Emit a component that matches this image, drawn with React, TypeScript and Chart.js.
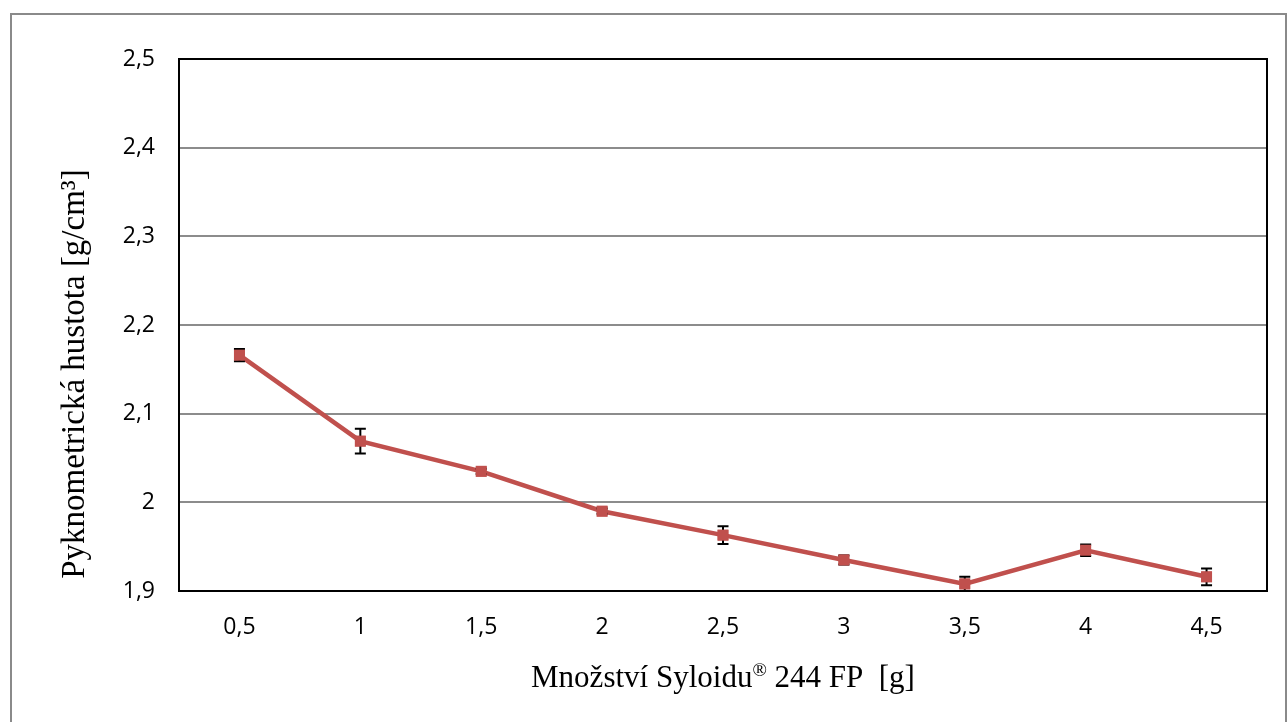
import React, { useEffect, useRef } from "react";
import { Chart, registerables } from "chart.js";

Chart.register(...registerables);

const categories = ["0,5", "1", "1,5", "2", "2,5", "3", "3,5", "4", "4,5"];
const densityValues = [2.166, 2.069, 2.035, 1.990, 1.963, 1.935, 1.908, 1.946, 1.916];
const densityErrors = [0.007, 0.014, 0.003, 0.003, 0.010, 0.005, 0.008, 0.0065, 0.0095];
const yTitle = "Pyknometrická hustota [g/cm³]";
const xTitleParts = ["Množství Syloidu", "®", " 244 FP  [g]"];

const W = 1288;
const H = 722;

export default function App() {
  const ref = useRef<HTMLCanvasElement | null>(null);

  useEffect(() => {
    const canvas = ref.current;
    if (!canvas) return;

    const framePlugin = {
      id: "frame",
      beforeDraw(chart: any) {
        const ctx = chart.ctx;
        ctx.save();
        ctx.fillStyle = "#ffffff";
        ctx.fillRect(0, 0, chart.width, chart.height);
        ctx.strokeStyle = "#8a8a8a";
        ctx.lineWidth = 2;
        ctx.strokeRect(11, 14, 1275, 800);
        ctx.restore();
      },
      afterDatasetsDraw(chart: any) {
        const ctx = chart.ctx;
        const xs = chart.scales.x;
        const ys = chart.scales.y;
        ctx.save();
        ctx.strokeStyle = "#000000";
        ctx.lineWidth = 2;
        densityValues.forEach((v, i) => {
          const e = densityErrors[i];
          const x = xs.getPixelForValue(i);
          const yTop = ys.getPixelForValue(v + e);
          const yBot = ys.getPixelForValue(v - e);
          ctx.beginPath();
          ctx.moveTo(x, yTop);
          ctx.lineTo(x, yBot);
          ctx.moveTo(x - 5.5, yTop);
          ctx.lineTo(x + 5.5, yTop);
          ctx.moveTo(x - 5.5, yBot);
          ctx.lineTo(x + 5.5, yBot);
          ctx.stroke();
        });
        const meta = chart.getDatasetMeta(0);
        ctx.fillStyle = "#C0504D";
        meta.data.forEach((pt: any) => {
          ctx.fillRect(pt.x - 5.5, pt.y - 5.5, 11, 11);
        });
        ctx.restore();
      },
      afterDraw(chart: any) {
        const ctx = chart.ctx;
        const a = chart.chartArea;
        ctx.save();
        ctx.strokeStyle = "#000000";
        ctx.lineWidth = 2;
        ctx.strokeRect(a.left, a.top, a.right - a.left, a.bottom - a.top);

        ctx.fillStyle = "#000000";
        ctx.textBaseline = "alphabetic";
        const mainFont = "31px 'Liberation Serif', 'Times New Roman', serif";
        const supFont = "19px 'Liberation Serif', 'Times New Roman', serif";
        ctx.font = mainFont;
        const w0 = ctx.measureText(xTitleParts[0]).width;
        const w2 = ctx.measureText(xTitleParts[2]).width;
        ctx.font = supFont;
        const w1 = ctx.measureText(xTitleParts[1]).width;
        const total = w0 + w1 + w2;
        const cx = (a.left + a.right) / 2;
        const baseY = 687;
        let x = cx - total / 2;
        ctx.textAlign = "left";
        ctx.font = mainFont;
        ctx.fillText(xTitleParts[0], x, baseY);
        x += w0;
        ctx.font = supFont;
        ctx.fillText(xTitleParts[1], x, baseY - 11);
        x += w1;
        ctx.font = mainFont;
        ctx.fillText(xTitleParts[2], x, baseY);

        ctx.translate(75, 374);
        ctx.rotate(-Math.PI / 2);
        ctx.textAlign = "center";
        ctx.textBaseline = "middle";
        ctx.font = "33px 'Liberation Serif', 'Times New Roman', serif";
        ctx.fillText(yTitle, 0, 0);
        ctx.restore();
      },
    };

    const chart = new Chart(canvas, {
      type: "line",
      data: {
        labels: categories,
        datasets: [
          {
            label: "Pyknometrická hustota",
            data: densityValues,
            borderColor: "#C0504D",
            backgroundColor: "#C0504D",
            borderWidth: 4.5,
            pointStyle: "rect",
            pointRadius: 7.5,
            pointBorderWidth: 0,
            tension: 0,
            clip: false as any,
          },
        ],
      },
      options: {
        responsive: false,
        animation: false,
        devicePixelRatio: 1,
        layout: { padding: { top: 59, right: 21, left: 0, bottom: 0 } },
        plugins: {
          legend: { display: false },
          tooltip: { enabled: false },
          title: { display: false },
        },
        scales: {
          x: {
            type: "category",
            offset: true,
            grid: { display: false, drawTicks: false },
            border: { display: false },
            ticks: {
              color: "#000000",
              font: { family: "'Open Sans', sans-serif", size: 23 },
              padding: 23,
            },
            afterFit(scale: any) {
              scale.height = 131;
            },
          },
          y: {
            min: 1.9,
            max: 2.5,
            grid: {
              color: "#8c8c8c",
              lineWidth: 2,
              drawTicks: false,
            },
            border: { display: false },
            ticks: {
              stepSize: 0.1,
              color: "#000000",
              font: { family: "'Open Sans', sans-serif", size: 23 },
              padding: 24,
              callback: (v: any) => String(Number(Number(v).toFixed(1))).replace(".", ","),
            },
            afterFit(scale: any) {
              scale.width = 179;
            },
          },
        },
      },
      plugins: [framePlugin],
    });

    return () => chart.destroy();
  }, []);

  return (
    <div style={{ position: "fixed", left: 0, top: 0, width: W, height: H, background: "#fff" }}>
      <canvas ref={ref} width={W} height={H} style={{ display: "block", width: W, height: H }} />
    </div>
  );
}
